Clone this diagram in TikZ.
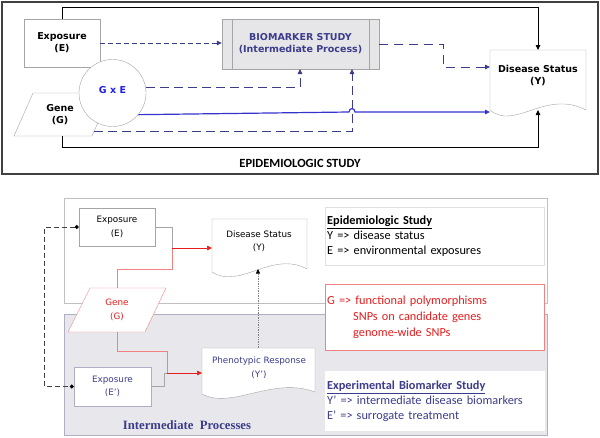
\documentclass[tikz,border=0pt]{standalone}
\usepackage{fontspec}
\setmainfont{DejaVu Sans}
\newfontfamily\verdfont{DejaVu Sans}
\newfontfamily\carlfont{Carlito}
\newfontfamily\tmsfont{Liberation Serif}
\usetikzlibrary{arrows.meta}
\definecolor{navy}{RGB}{60,60,140}
\definecolor{bline}{RGB}{52,52,205}
\definecolor{gxe}{RGB}{30,30,230}
\definecolor{redt}{RGB}{230,30,30}
\definecolor{redl}{RGB}{240,130,130}
\definecolor{boxg}{RGB}{165,165,165}
\definecolor{panelg}{RGB}{232,232,236}
\definecolor{panelb}{RGB}{175,175,195}
\definecolor{bmfill}{RGB}{230,230,232}
\tikzset{
  arr/.style={-{Triangle[length=5pt,width=4.5pt]}},
  tfont/.style={font=\verdfont\bfseries\fontsize{9.5}{12}\selectfont},
  bfont/.style={font=\verdfont\fontsize{8.8}{13.5}\selectfont},
  tbox/.style={draw=boxg, fill=white, align=center, inner sep=0pt},
  txt/.style={align=center, inner sep=0pt},
  ndash/.style={draw=navy, line width=0.8pt, dash pattern=on 9pt off 5pt},
  legend/.style={fill=white, anchor=north west, align=left, inner xsep=2pt, inner ysep=0pt,
     font=\carlfont\fontsize{12.3}{15}\selectfont},
}
\begin{document}
\begin{tikzpicture}[x=1pt,y=-1pt]
\useasboundingbox (0,0) rectangle (600,437);
% ================= TOP PANEL =================
\node[draw=black!75, line width=1.3pt, fill=white, minimum width=596pt, minimum height=172pt, inner sep=0pt] (toppanel) at (300,88) {};
\node[font=\carlfont\bfseries\fontsize{12.5}{14}\selectfont, inner sep=0pt] (epilabel) at (300,163) {EPIDEMIOLOGIC STUDY};

% Exposure
\node[tbox, tfont, minimum width=76pt, minimum height=48pt] (E) at (62,43) {Exposure\\(E)};
% Gene
\draw[boxg, fill=white] (14,136) -- (33,93) -- (111,93) -- (92,136) -- cycle;
\node[txt, tfont] (G) at (60,115) {Gene\\(G)};
\coordinate (Gbot) at (62,136);
\coordinate (Gright) at (94,131);
% GxE
\node[circle, draw=boxg, fill=white, minimum size=67pt, inner sep=0pt, text=gxe, tfont] (GxE) at (112.5,93) {\raisebox{6pt}{G x E}};
% Biomarker
\node[draw=boxg, fill=bmfill, minimum width=157pt, minimum height=50pt, text=navy, tfont, align=center, inner sep=0pt] (BM) at (300.5,44) {BIOMARKER STUDY\\(Intermediate Process)};
\draw[boxg] ([xshift=10pt]BM.north west) -- ([xshift=10pt]BM.south west);
\draw[boxg] ([xshift=-10pt]BM.north east) -- ([xshift=-10pt]BM.south east);
\coordinate (BMin1) at (300,69);
\coordinate (BMin2) at (352,69);
% Disease status (document)
\draw[boxg, fill=white] (490,50) -- (586,50) -- (586,110) .. controls (545,89) and (515,131) .. (490,110) -- cycle;
\node[txt, tfont] (DS) at (538,76) {Disease Status\\(Y)};
\coordinate (DStop) at (538,50);
\coordinate (DSbot) at (538,110);
\coordinate (DSleft) at (490,112);
\coordinate (DSleft2) at (490,67);

% connectors
\draw[black, line width=0.8pt, arr] (E.north) -- ++(0,-11) -| (DStop);
\draw[black, line width=0.8pt, arr] (Gbot) -- ++(0,11) -| (DSbot);
\draw[navy, line width=0.8pt, dash pattern=on 5pt off 3pt, arr] (E.east) -- (E.east -| BM.west);
\draw[ndash, arr] (GxE.east |- 0,87) -| (BMin1);
\draw[ndash, arr] (Gright) -| (BMin2);
\draw[bline, line width=1.2pt, arr] (GxE.-40) -- (349,112) .. controls (349,107.5) and (355,107.5) .. (355,112) -- (DSleft);
\draw[navy, line width=0.8pt, dash pattern=on 9pt off 6pt, arr] (BM.east) -- ++(64,0) |- (DSleft2);

% ================= BOTTOM PANEL =================
\node[draw=boxg!70, fill=white, minimum width=483pt, minimum height=105pt, inner sep=0pt] (epipanel) at (305.5,250.5) {};
\node[draw=panelb, fill=panelg, minimum width=483pt, minimum height=121pt, inner sep=0pt] (intpanel) at (305.5,374.5) {};

% legends
\node[legend, draw=black!12, minimum width=219pt, minimum height=58pt, text width=215pt] (leg1) at (325,207)
  {\underline{\textbf{Epidemiologic Study}}\\Y => disease status\\E => environmental exposures};
\node[legend, draw=redl, text=redt, minimum width=219pt, minimum height=66pt, text width=215pt,
  font=\carlfont\fontsize{12.3}{16}\selectfont] (leg2) at (325,284)
  {G => functional polymorphisms\\\hspace*{26pt}SNPs on candidate genes\\\hspace*{26pt}genome-wide SNPs};
\node[legend, text=navy, minimum width=220pt, minimum height=60pt, text width=216pt] (leg3) at (325,371)
  {\underline{\textbf{Experimental Biomarker Study}}\\Y\textquoteright\ => intermediate disease biomarkers\\E\textquoteright\ => surrogate treatment};

\node[font=\tmsfont\bfseries\fontsize{12.7}{14}\selectfont, text=navy, inner sep=0pt] (intlabel) at (187,425) {Intermediate\ \ Processes};

% Exposure E
\node[tbox, bfont, minimum width=76pt, minimum height=38pt] (Eb) at (117,227) {Exposure\\(E)};
% Disease status bottom
\draw[boxg, fill=white] (212,219) -- (307,219) -- (307,269) .. controls (272,250) and (240,290) .. (212,272) -- cycle;
\node[txt, bfont] (DSb) at (259,241) {Disease Status\\(Y)};
\coordinate (DSbL) at (212,248);
\coordinate (DSbB) at (258,269);
% Gene bottom
\draw[redl, fill=white] (68,332) -- (90,288) -- (166,288) -- (145,332) -- cycle;
\node[txt, bfont, text=redt] (Gb) at (117,310) {Gene\\(G)};
\coordinate (GbTop) at (117,288);
\coordinate (GbBot) at (117,332);
% Exposure E'
\node[draw=panelb, fill=white, align=center, inner sep=0pt, bfont, text=navy, minimum width=77pt, minimum height=39pt] (Ep) at (112.5,386.5) {Exposure\\(E\textquoteright)};
% Phenotypic response
\draw[boxg, fill=white] (202,348) -- (315,348) -- (315,392) .. controls (272,376) and (232,410) .. (202,394) -- cycle;
\node[txt, bfont, text=navy] (PR) at (259,367.5) {Phenotypic Response\\(Y\textquoteright)};
\coordinate (PRtop) at (258,348);
\coordinate (PRL) at (202,373);

\coordinate (J1) at (172,248);
\coordinate (J2) at (167,373);
% connectors
\draw[boxg, line width=0.7pt] (Eb.east) -| (J1);
\draw[redl, line width=0.7pt] (GbTop) -- ++(0,-19) -| (J1);
\draw[redt, line width=0.7pt, arr] (J1) -- (DSbL);
\draw[boxg, line width=0.7pt] (Ep.east) -- ++(13,0) |- (J2);
\draw[redl, line width=0.7pt] (GbBot) -- ++(0,19) -| (J2);
\draw[redt, line width=0.7pt, arr] (J2) -- (PRL);
\draw[gray, densely dotted, line width=0.7pt, -{Triangle[length=4.5pt,width=4pt,color=black]}] (PRtop) -- (DSbB);
\draw[black!75, line width=0.9pt, dash pattern=on 5pt off 3pt, {Circle[length=4pt,color=black]}-{Circle[length=4pt,color=black]}] (Eb.west) -- ++(-34,0) |- (Ep.west);
\end{tikzpicture}
\end{document}
